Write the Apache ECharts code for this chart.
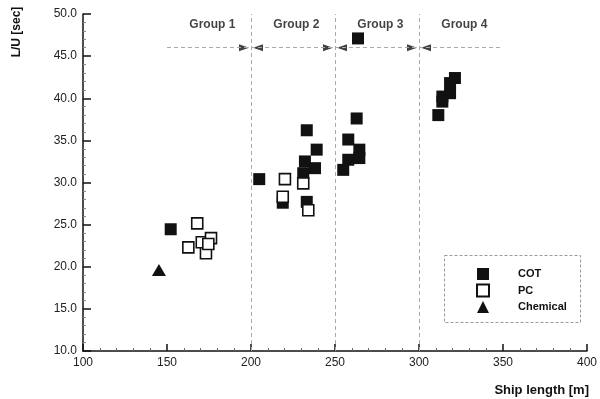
<!DOCTYPE html>
<html><head><meta charset="utf-8">
<script src="https://cdn.jsdelivr.net/npm/echarts@6/dist/echarts.min.js"></script>
<style>html,body{margin:0;padding:0;background:#fff}#c{width:600px;height:399px}</style>
</head><body><div id="c"></div>
<script>
// ---- data ----
const cotX = [152.2, 204.9, 218.9, 233.2, 239.1, 232.1, 238.1, 231.1, 233.2, 263.7, 262.9, 257.9, 264.5, 264.5, 257.9, 254.9, 321.4, 318.5, 318.5, 313.9, 313.9, 311.5];
const cotY = [24.45, 30.4, 27.6, 36.2, 33.9, 32.5, 31.7, 31.1, 27.7, 47.1, 37.6, 35.1, 33.9, 32.9, 32.7, 31.5, 42.4, 41.8, 40.6, 40.2, 39.6, 38.0];
const pcX = [168.0, 162.7, 170.7, 176.2, 173.2, 174.6, 220.2, 218.9, 231.1, 234.1];
const pcY = [25.15, 22.3, 22.9, 23.4, 21.6, 22.7, 30.4, 28.3, 29.9, 26.7];
const chemX = [145.2];
const chemY = [19.6];
const groupNames = ['Group 1', 'Group 2', 'Group 3', 'Group 4'];
const groupLabelX = [177, 227, 277, 327];
const groupLabelY = 48.7;
const dividers = [200, 250, 300];
const rangeLineY = 46;
const rangeLineX = [150, 350];
const xMin = 100, xMax = 400, xStep = 50;
const yMin = 10, yMax = 50, yStep = 5;

const zip = (a, b) => a.map((v, i) => [v, b[i]]);
const ink = '#111';
const dashStyle = { color: '#aaa', width: 1, type: [4, 3] };

const chart = echarts.init(document.getElementById('c'), null, { renderer: 'canvas' });
chart.setOption({
  backgroundColor: '#fff',
  animation: false,
  textStyle: { fontFamily: 'Liberation Sans, Arial, sans-serif' },
  grid: { left: 83, right: 13, top: 14, bottom: 48 },
  xAxis: {
    type: 'value', min: xMin, max: xMax, interval: xStep,
    name: 'Ship length [m]', nameLocation: 'end', nameGap: 2,
    nameTextStyle: { color: ink, fontWeight: 'bold', fontSize: 13, align: 'right', verticalAlign: 'top', padding: [33, 0, 0, 0] },
    axisLine: { lineStyle: { color: ink, width: 1.5 } },
    axisTick: { inside: true, length: 7, lineStyle: { color: ink, width: 1.5 } },
    minorTick: { show: true, splitNumber: 5, length: 3, lineStyle: { color: '#666' } },
    axisLabel: { color: '#222', fontSize: 12, margin: 6 },
    splitLine: { show: false }
  },
  yAxis: {
    type: 'value', min: yMin, max: yMax, interval: yStep,
    name: 'L/U [sec]', nameLocation: 'end', nameRotate: 90, nameGap: -18,
    nameTextStyle: { color: ink, fontWeight: 'bold', fontSize: 12, align: 'center', verticalAlign: 'bottom', padding: [0, 0, 60, 0] },
    axisLine: { lineStyle: { color: ink, width: 1.5 } },
    axisTick: { inside: true, length: 8, lineStyle: { color: ink, width: 1.5 } },
    minorTick: { show: true, splitNumber: 5, length: 3, lineStyle: { color: '#888' } },
    axisLabel: { color: '#222', fontSize: 12, margin: 6, formatter: v => v.toFixed(1) },
    splitLine: { show: false }
  },
  legend: {
    orient: 'vertical', left: 476, top: 268, padding: 0,
    itemWidth: 12, itemHeight: 12, itemGap: 3.5,
    data: ['COT', 'PC', 'Chemical'],
    textStyle: { color: ink, fontWeight: 'bold', fontSize: 11, padding: [0, 0, 0, 24] }
  },
  graphic: [{
    type: 'rect', left: 442, top: 253, silent: true,
    shape: { width: 136, height: 67 },
    style: { fill: 'none', stroke: '#999', lineWidth: 1, lineDash: [3, 2] }
  }],
  series: [
    {
      type: 'scatter', name: 'guides', data: [], silent: true,
      markLine: {
        silent: true, symbol: 'none', label: { show: false },
        lineStyle: dashStyle,
        data: dividers.map(d => [{ coord: [d, yMin] }, { coord: [d, yMax] }])
          .concat([[{ coord: [rangeLineX[0], rangeLineY] }, { coord: [rangeLineX[1], rangeLineY] }]])
      }
    },
    {
      type: 'scatter', name: 'arrowR', silent: true,
      symbol: 'path://M0,0L10,5L0,10Z', symbolSize: [10, 7], symbolOffset: [-7, 0],
      itemStyle: { color: ink },
      data: dividers.map(d => [d, rangeLineY])
    },
    {
      type: 'scatter', name: 'arrowL', silent: true,
      symbol: 'path://M10,0L0,5L10,10Z', symbolSize: [10, 7], symbolOffset: [7, 0],
      itemStyle: { color: ink },
      data: dividers.map(d => [d, rangeLineY])
    },
    {
      type: 'scatter', name: 'groups', silent: true, symbolSize: 0,
      label: { show: true, position: 'inside', formatter: '{b}', color: ink, fontWeight: 'bold', fontSize: 12 },
      data: groupLabelX.map((x, i) => ({ name: groupNames[i], value: [x, groupLabelY] }))
    },
    {
      type: 'scatter', name: 'COT', symbol: 'rect', symbolSize: 12, z: 3,
      itemStyle: { color: ink, opacity: 1 },
      data: zip(cotX, cotY)
    },
    {
      type: 'scatter', name: 'PC', symbol: 'rect', symbolSize: 11, z: 4,
      itemStyle: { color: '#fff', borderColor: ink, borderWidth: 1.6, opacity: 1 },
      data: zip(pcX, pcY)
    },
    {
      type: 'scatter', name: 'Chemical', symbol: 'triangle', symbolSize: [14, 12], z: 3,
      itemStyle: { color: ink, opacity: 1 },
      data: zip(chemX, chemY)
    }
  ]
});
</script></body></html>
